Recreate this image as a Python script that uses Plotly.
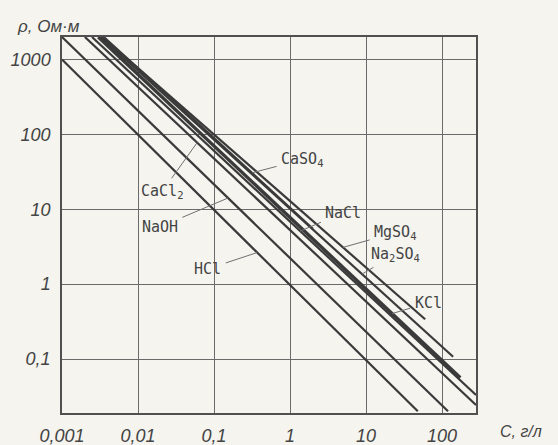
import numpy as np
import plotly.graph_objects as go

# ---- data ----
substances = ["HCl", "NaOH", "CaCl2", "NaCl", "KCl", "Na2SO4", "MgSO4", "CaSO4"]
label_text = ["HCl", "NaOH", "CaCl<sub>2</sub>", "NaCl", "KCl",
              "Na<sub>2</sub>SO<sub>4</sub>", "MgSO<sub>4</sub>", "CaSO<sub>4</sub>"]
c_start = [0.001, 0.001, 0.0020, 0.00248, 0.0030, 0.00324, 0.0034, 0.00355]   # g/l
rho_start = [1000, 2000, 2000, 2000, 2000, 2000, 2000, 2000]                  # Ohm*m
c_end = [48, 120, 280, 280, 174, 140, 60, 2.0]
rho_end = [0.02, 0.02, 0.0243, 0.033, 0.056, 0.107, 0.34, 5.5]
line_width = [2.2, 2.2, 2.2, 2.2, 3.4, 2.2, 2.2, 2.2]

# where each leader touches its line (concentration, g/l)
c_touch = [0.37, 0.153, 0.06, 1.36, 22.0, 8.85, 4.98, 0.316]
# label centre (log10 C, log10 rho)
lab_logc = [-1.08, -1.71, -1.684, 0.70, 1.816, 1.382, 1.382, 0.158]
lab_logr = [0.204, 0.766, 1.234, 0.953, -0.251, 0.391, 0.686, 1.662]

x_ticks = [0.001, 0.01, 0.1, 1, 10, 100]
x_ticktext = ["0,001", "0,01", "0,1", "1", "10", "100"]
y_ticks = [0.1, 1, 10, 100, 1000]
y_ticktext = ["0,1", "1", "10", "100", "1000"]
x_range = [0.001, 280]
y_range = [0.019, 2000]

LINE = "#3a3a3a"
GRID = "#6a6a6a"
BG = "#f5f4ef"
TXT = "#444444"

fig = go.Figure()
for i, name in enumerate(substances):
    fig.add_trace(go.Scatter(
        x=[c_start[i], c_end[i]], y=[rho_start[i], rho_end[i]],
        mode="lines", name=name, showlegend=False,
        line=dict(color=LINE, width=line_width[i]),
        hoverinfo="name"))

annotations = []
for i, name in enumerate(substances):
    lc0, lc1 = np.log10(c_start[i]), np.log10(c_end[i])
    lr0, lr1 = np.log10(rho_start[i]), np.log10(rho_end[i])
    lc = np.log10(c_touch[i])
    lr = lr0 + (lr1 - lr0) * (lc - lc0) / (lc1 - lc0)
    annotations.append(dict(
        x=lc, y=lr, xref="x", yref="y",
        ax=lab_logc[i], ay=lab_logr[i], axref="x", ayref="y",
        text=label_text[i], showarrow=True, arrowhead=0, arrowwidth=1,
        arrowcolor="#707070", standoff=0, startstandoff=3,
        font=dict(family="DejaVu Sans Mono", size=15, color=TXT),
        xanchor="center", yanchor="middle"))

annotations.append(dict(
    x=0, y=1.0, xref="paper", yref="paper", xshift=-47, yshift=-1,
    text="ρ, Ом·м", showarrow=False, xanchor="left", yanchor="bottom",
    font=dict(family="Liberation Sans", size=17, color=TXT, style="italic")))
annotations.append(dict(
    x=1.0, y=0.0, xref="paper", yref="paper", xshift=22, yshift=-18,
    text="C, г/л", showarrow=False, xanchor="left", yanchor="middle",
    font=dict(family="Liberation Sans", size=16, color=TXT, style="italic")))

axis_common = dict(
    type="log", showgrid=True, gridcolor=GRID, gridwidth=1,
    showline=True, mirror=True, linecolor="#505050", linewidth=1.5,
    zeroline=False, ticks="", ticklabelstandoff=6, automargin=False,
    tickfont=dict(family="Liberation Sans", size=18, color=TXT, style="italic"))

fig.update_layout(
    width=558, height=445, autosize=False,
    margin=dict(l=62, r=82, t=37, b=32, autoexpand=False),
    paper_bgcolor=BG, plot_bgcolor=BG,
    annotations=annotations,
    xaxis=dict(range=[np.log10(x_range[0]), np.log10(x_range[1])],
               tickvals=x_ticks, ticktext=x_ticktext, **axis_common),
    yaxis=dict(range=[np.log10(y_range[0]), np.log10(y_range[1])],
               tickvals=y_ticks, ticktext=y_ticktext, **axis_common),
)

fig.write_html(
    "out.html",
    config={"displayModeBar": False},
    post_script="document.body.style.margin='0';"
                "document.body.style.background='" + BG + "';")
